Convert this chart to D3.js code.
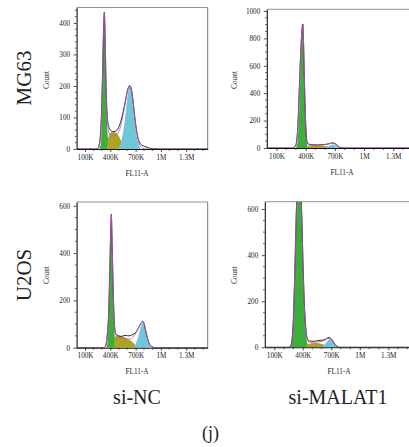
<!DOCTYPE html>
<html>
<head>
<meta charset="utf-8">
<script src="https://cdn.jsdelivr.net/npm/d3@7"></script>
<style>
  html, body { margin: 0; padding: 0; background: #fff; }
  svg { display: block; }
  text { font-family: "Liberation Serif", "DejaVu Serif", serif; fill: #222; }
</style>
</head>
<body>
<svg id="chart" width="409" height="447"></svg>
<script>
// ---------------- DATA (x in K channel units, y = count) ----------------
const rowLabels = ["MG63", "U2OS"];
const colLabels = ["si-NC", "si-MALAT1"];
const panelLabel = "(j)";
const xAxisTitle = "FL11-A";
const yAxisTitle = "Count";
const xTickValues = [100, 400, 700, 1000, 1300];
const xTickLabels = ["100K", "400K", "700K", "1M", "1.3M"];

// MG63 si-NC
const mg63NcData = [[0,0],[235,0],[255,4],[275,25],[292,90],[308,240],[320,380],[329,434],[337,370],[348,220],[362,110],[380,72],[400,60],[430,55],[460,56],[490,64],[520,84],[550,115],[580,155],[605,188],[630,201],[650,190],[670,150],[695,90],[720,45],[745,22],[775,12],[810,8],[850,4],[900,1],[1000,0],[1560,0]];
const mg63NcFit  = [[0,0],[240,0],[262,3],[285,40],[305,200],[320,380],[329,432],[338,360],[350,200],[365,90],[385,52],[410,45],[440,43],[470,45],[500,55],[530,80],[560,120],[590,165],[615,195],[632,200],[650,188],[672,145],[700,80],[725,35],[750,12],[780,3],[820,0],[1560,0]];
const mg63NcG1   = [[270,0],[290,20],[305,150],[318,340],[328,410],[338,330],[350,170],[365,60],[385,12],[405,0]];
const mg63NcS    = [[355,0],[368,25],[388,45],[410,52],[435,54],[460,52],[490,45],[520,30],[548,10],[570,0]];
const mg63NcG2   = [[495,0],[520,15],[550,50],[580,110],[605,170],[620,193],[633,200],[648,190],[665,150],[690,90],[715,40],[740,12],[760,0]];

// MG63 si-MALAT1
const mg63MaData = [[0,0],[270,0],[288,8],[303,35],[318,150],[335,450],[352,750],[365,890],[370,905],[378,760],[390,400],[402,140],[415,45],[430,28],[470,24],[520,22],[570,24],[610,27],[640,31],[665,36],[690,36],[710,28],[735,12],[760,3],[800,0],[1470,0]];
const mg63MaFit  = [[0,0],[275,0],[292,6],[306,35],[320,160],[337,470],[353,760],[366,880],[371,895],[379,740],[391,380],[403,120],[416,35],[432,24],[470,21],[520,20],[570,22],[610,26],[640,31],[665,35],[690,33],[712,24],[736,10],[760,2],[790,0],[1470,0]];
const mg63MaG1   = [[300,0],[315,40],[330,220],[345,520],[360,810],[370,880],[380,700],[392,380],[405,110],[418,15],[430,0]];
const mg63MaS    = [[400,0],[420,12],[450,18],[500,20],[550,18],[600,14],[640,8],[670,0]];
const mg63MaG2   = [[585,0],[612,6],[640,15],[662,22],[680,25],[700,22],[722,12],[750,3],[775,0]];

// U2OS si-NC
const u2osNcData = [[0,0],[320,0],[340,5],[360,40],[380,150],[395,350],[405,500],[412,564],[420,470],[432,280],[445,130],[460,65],[478,54],[500,50],[530,48],[560,51],[590,52],[620,50],[650,53],[680,58],[710,68],[740,88],[765,104],[784,112],[800,102],[820,70],[845,35],[870,12],[900,4],[930,0],[1560,0]];
const u2osNcFit  = [[0,0],[325,0],[345,6],[362,45],[382,160],[396,360],[406,510],[412,560],[420,460],[432,270],[445,120],[460,60],[478,48],[500,45],[530,42],[560,40],[590,37],[620,36],[650,40],[680,50],[710,66],[740,88],[765,104],[788,110],[805,98],[825,65],[850,28],[875,8],[900,2],[930,0],[1560,0]];
const u2osNcG1   = [[350,0],[365,20],[380,120],[395,330],[405,480],[412,540],[420,450],[432,260],[445,100],[458,25],[470,0]];
const u2osNcS    = [[440,0],[455,40],[470,50],[500,50],[540,47],[580,42],[620,35],[660,25],[690,14],[715,0]];
const u2osNcG2   = [[670,0],[700,15],[730,45],[755,80],[775,100],[788,105],[805,90],[825,60],[850,25],[875,6],[895,0]];

// U2OS si-MALAT1
const u2osMaData = [[0,0],[255,0],[270,5],[285,30],[300,120],[315,320],[330,560],[345,750],[360,810],[375,740],[390,560],[405,330],[420,160],[435,70],[450,35],[470,27],[520,26],[570,30],[610,31],[640,35],[665,42],[690,40],[715,28],[740,12],[765,3],[790,0],[1520,0]];
const u2osMaFit  = [[0,0],[258,0],[273,5],[288,32],[302,125],[316,325],[331,565],[346,750],[360,805],[375,735],[390,550],[405,320],[420,150],[435,62],[450,30],[470,22],[520,22],[570,24],[610,27],[640,32],[665,38],[690,37],[715,26],[740,10],[765,2],[790,0],[1520,0]];
const u2osMaG1   = [[265,0],[285,25],[300,110],[315,310],[330,550],[345,740],[360,800],[375,730],[390,550],[405,320],[420,150],[435,55],[450,15],[465,0]];
const u2osMaS    = [[430,0],[450,12],[480,17],[530,19],[580,17],[620,12],[650,5],[670,0]];
const u2osMaG2   = [[590,0],[620,8],[650,22],[675,33],[692,36],[710,28],[735,14],[760,4],[780,0]];

// y-axis tick settings per panel (values)
const mg63NcYTicks = [0,100,200,300,400];
const mg63MaYTicks = [0,200,400,600,800,1000];
const u2osNcYTicks = [0,200,400,600];
const u2osMaYTicks = [0,200,400,600];

// ---------------- LAYOUT ----------------
const colors = { g1: "#3cae3c", s: "#aba423", g2: "#6fc7d7", fit: "#c24fc2", data: "#2a2a2a" };

const panels = [
  { x0: 76.6, x1: 207.7, y0: 149, y1: 7.5, xmax: 1555, ymax: 449, yTicks: mg63NcYTicks, yMinor: 20, rightBorder: true,
    data: mg63NcData, fit: mg63NcFit, g1: mg63NcG1, s: mg63NcS, g2: mg63NcG2, countX: 46, countY: 80, titleX: 137 },
  { x0: 266.8, x1: 409, y0: 148, y1: 9.3, xmax: 1462, ymax: 1012, yTicks: mg63MaYTicks, yMinor: 50, rightBorder: false,
    data: mg63MaData, fit: mg63MaFit, g1: mg63MaG1, s: mg63MaS, g2: mg63MaG2, countX: 234.3, countY: 80, titleX: 342 },
  { x0: 76.6, x1: 207.7, y0: 347.7, y1: 202, xmax: 1555, ymax: 616, yTicks: u2osNcYTicks, yMinor: 50, rightBorder: true,
    data: u2osNcData, fit: u2osNcFit, g1: u2osNcG1, s: u2osNcS, g2: u2osNcG2, countX: 46.7, countY: 275, titleX: 137 },
  { x0: 264.8, x1: 409, y0: 347.3, y1: 201.7, xmax: 1518, ymax: 632, yTicks: u2osMaYTicks, yMinor: 50, rightBorder: false,
    data: u2osMaData, fit: u2osMaFit, g1: u2osMaG1, s: u2osMaS, g2: u2osMaG2, countX: 234.3, countY: 275, titleX: 339 }
];

const svg = d3.select("#chart");
const defs = svg.append("defs");

panels.forEach((p, i) => {
  const x = d3.scaleLinear().domain([0, p.xmax]).range([p.x0, p.x1]);
  const y = d3.scaleLinear().domain([0, p.ymax]).range([p.y0, p.y1]);
  const g = svg.append("g");

  defs.append("clipPath").attr("id", "clip" + i)
    .append("rect").attr("x", p.x0).attr("y", p.y1).attr("width", p.x1 - p.x0).attr("height", p.y0 - p.y1);

  const plot = g.append("g").attr("clip-path", `url(#clip${i})`);
  const area = d3.area().x(d => x(d[0])).y0(y(0)).y1(d => y(d[1])).curve(d3.curveMonotoneX);
  const line = d3.line().x(d => x(d[0])).y(d => y(d[1])).curve(d3.curveMonotoneX);

  plot.append("path").attr("d", area(p.g1)).attr("fill", colors.g1);
  plot.append("path").attr("d", area(p.s)).attr("fill", colors.s);
  plot.append("path").attr("d", area(p.g2)).attr("fill", colors.g2);
  plot.append("path").attr("d", line(p.data)).attr("fill", "none").attr("stroke", colors.data).attr("stroke-width", 1);
  plot.append("path").attr("d", line(p.fit)).attr("fill", "none").attr("stroke", colors.fit).attr("stroke-width", 0.9).attr("opacity", 0.9);

  // frame top/right
  g.append("line").attr("x1", p.x0).attr("x2", p.x1).attr("y1", p.y1).attr("y2", p.y1)
    .attr("stroke", "#777").attr("stroke-width", 0.8);
  if (p.rightBorder) {
    g.append("line").attr("x1", p.x1).attr("x2", p.x1).attr("y1", p.y1).attr("y2", p.y0)
      .attr("stroke", "#555").attr("stroke-width", 0.8);
  }

  // x axis
  const xAxis = d3.axisBottom(x).tickValues(xTickValues).tickFormat((d, k) => xTickLabels[k]).tickSize(3).tickSizeOuter(0);
  const xa = g.append("g").attr("transform", `translate(0,${p.y0})`).call(xAxis);
  const xMinor = d3.range(0, p.xmax, 100).filter(v => !xTickValues.includes(v) && v > 0);
  xa.selectAll(".minor").data(xMinor).enter().append("line").attr("class", "minor")
    .attr("x1", d => x(d)).attr("x2", d => x(d)).attr("y1", 0).attr("y2", 2).attr("stroke", "#222").attr("stroke-width", 0.7);
  xa.select(".domain").attr("stroke", "#111").attr("stroke-width", 1.1);
  xa.selectAll(".tick line").attr("stroke", "#222").attr("stroke-width", 0.8);
  xa.selectAll(".tick text").attr("font-size", 7.2).attr("font-family", "Liberation Serif, serif").attr("fill", "#333").attr("y", 5.5);

  // y axis
  const yAxis = d3.axisLeft(y).tickValues(p.yTicks).tickFormat(d3.format("d")).tickSize(3).tickSizeOuter(0);
  const ya = g.append("g").attr("transform", `translate(${p.x0},0)`).call(yAxis);
  const yMinor = d3.range(0, p.ymax, p.yMinor).filter(v => !p.yTicks.includes(v));
  ya.selectAll(".minor").data(yMinor).enter().append("line").attr("class", "minor")
    .attr("x1", 0).attr("x2", -1.8).attr("y1", d => y(d)).attr("y2", d => y(d)).attr("stroke", "#222").attr("stroke-width", 0.7);
  ya.select(".domain").attr("stroke", "#111").attr("stroke-width", 1.1);
  ya.selectAll(".tick line").attr("stroke", "#222").attr("stroke-width", 0.8);
  ya.selectAll(".tick text").attr("font-size", 7.2).attr("font-family", "Liberation Serif, serif").attr("fill", "#333").attr("x", -6.5);

  // axis titles
  g.append("text").attr("x", p.titleX).attr("y", p.y0 + 26.5).attr("text-anchor", "middle")
    .attr("font-size", 7.3).attr("fill", "#333").text(xAxisTitle);
  g.append("text").attr("transform", `translate(${p.countX + 2.5},${p.countY}) rotate(-90)`).attr("text-anchor", "middle")
    .attr("font-size", 7.3).attr("fill", "#333").text(yAxisTitle);
});

// row labels
[78, 275].forEach((cy, k) => {
  svg.append("text").attr("transform", `translate(${23.3 + 7.5},${cy}) rotate(-90)`).attr("text-anchor", "middle")
    .attr("font-size", 21).attr("fill", "#222").text(rowLabels[k]);
});
// column labels
[137, 338].forEach((cx, k) => {
  svg.append("text").attr("x", cx).attr("y", 403.5).attr("text-anchor", "middle")
    .attr("font-size", 20).attr("fill", "#222").text(colLabels[k]);
});
svg.append("text").attr("x", 210.5).attr("y", 439).attr("text-anchor", "middle")
  .attr("font-size", 18).attr("fill", "#222").text(panelLabel);
</script>
</body>
</html>
